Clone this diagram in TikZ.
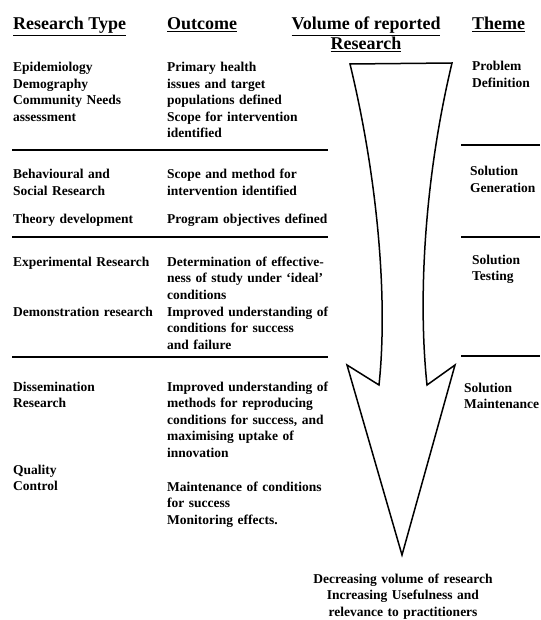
\documentclass[tikz,border=0pt]{standalone}
\usepackage{fontspec}
\setmainfont{Liberation Serif}
\begin{document}
\begin{tikzpicture}[x=1pt,y=-1pt,
    head/.style={anchor=base west,inner sep=0pt,font=\fontsize{18}{22}\selectfont\bfseries},
    cell/.style={anchor=base west,inner sep=0pt,text width=175pt,align=left,font=\fontsize{13.5}{16.5}\selectfont\bfseries},
    rule/.style={line width=1.4pt},
    funnel/.style={line width=1.5pt,line join=miter}]
        \useasboundingbox (0,0) rectangle (540,620);
        % column heads
        \node[head] (hrt) at (13,30) {\underline{Research Type}};
        \node[head] (hoc) at (167,30) {\underline{Outcome}};
        \node[head,anchor=base] (hvol) at (366,30) {\underline{Volume of reported}};
        \node[head,anchor=base] (hvolb) at (366,50) {\underline{Research}};
        \node[head] (hth) at (472,30) {\underline{Theme}};
        % research types and outcomes
        \node[cell] (rt1) at (13,72) {Epidemiology\\Demography\\Community Needs\\assessment};
        \node[cell] (oc1) at (167,72) {Primary health\\issues and target\\populations defined\\Scope for intervention\\identified};
        \node[cell] (rt2) at (13,179) {Behavioural and\\Social Research};
        \node[cell] (oc2) at (167,179) {Scope and method for\\intervention identified};
        \node[cell] (rt3) at (13,223) {Theory development};
        \node[cell] (oc3) at (167,223) {Program objectives defined};
        \node[cell] (rt4) at (13,266) {Experimental Research};
        \node[cell] (oc4) at (167,266) {Determination of effective-\\ness of study under `ideal'\\conditions};
        \node[cell] (rt5) at (13,316) {Demonstration research};
        \node[cell] (oc5) at (167,316) {Improved understanding of\\conditions for success\\and failure};
        \node[cell] (rt6) at (13,391) {Dissemination\\Research};
        \node[cell] (oc6) at (167,391) {Improved understanding of\\methods for reproducing\\conditions for success, and\\maximising uptake of\\innovation};
        \node[cell] (rt7) at (13,474) {Quality\\Control};
        \node[cell] (oc7) at (167,491) {Maintenance of conditions\\for success\\Monitoring effects.};
        % themes
        \node[cell,text width=80pt] (th1) at (472,71) {Problem\\Definition};
        \node[cell,text width=80pt] (th2) at (470,176) {Solution\\Generation};
        \node[cell,text width=80pt] (th3) at (472,264) {Solution\\Testing};
        \node[cell,text width=80pt] (th4) at (464,392) {Solution\\Maintenance};
        \node[cell,anchor=base,align=center,text width=200pt] (note) at (403,583) {Decreasing volume of research\\Increasing Usefulness and\\relevance to practitioners};
        % dividing rules
        \draw[rule] (12,150)--(328,150) (12,237)--(328,237) (12,357)--(328,357);
        \draw[rule] (461,145)--(540,145) (461,237)--(540,237) (461,356)--(540,356);
        % arrow
        \draw[funnel] (350,64)--(452,63) .. controls (424,180) and (418,300) .. (427,385)--(455,365)--(402,555)--(347,365)--(379,385) .. controls (388,300) and (378,180) .. (350,64)--cycle;
      \end{tikzpicture}
\end{document}
